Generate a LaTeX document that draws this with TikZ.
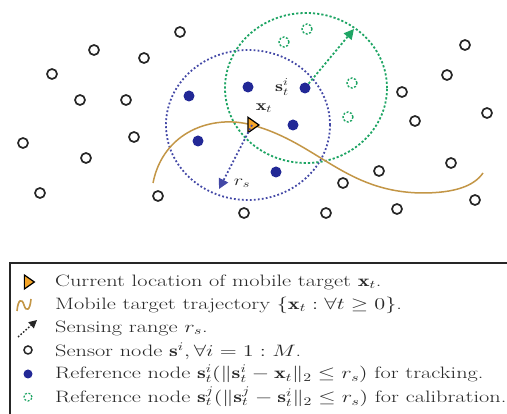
\RequirePackage{fix-cm}
\documentclass[tikz,border=0pt]{standalone}
\usepackage{fontspec}
\usepackage{graphicx}
\usetikzlibrary{arrows.meta,shapes.geometric}
\definecolor{navy}{RGB}{34,40,150}
\definecolor{calgreen}{RGB}{30,165,100}
\definecolor{gold}{RGB}{195,150,70}
\definecolor{tgtorange}{RGB}{245,165,40}
\definecolor{txt}{RGB}{40,40,40}
\newcommand{\wide}[1]{\scalebox{1.35}[1]{#1}}
\begin{document}
\begin{tikzpicture}[x=1pt,y=-1pt,
  sensor/.style={circle,draw=black!85,line width=1.7pt,minimum size=10pt,inner sep=0pt},
  refnode/.style={circle,fill=navy,minimum size=11pt,inner sep=0pt},
  calnode/.style={circle,draw=calgreen,line width=1.4pt,dash pattern=on 2pt off 1.6pt,minimum size=10pt,inner sep=0pt},
  target/.style={isosceles triangle,isosceles triangle apex angle=70,fill=tgtorange,draw=black,line width=1.2pt,minimum size=11pt,inner sep=0pt},
  bluedots/.style={navy!85,line width=1.8pt,dash pattern=on 1.8pt off 2.2pt},
  greendots/.style={calgreen,line width=1.8pt,dash pattern=on 2.2pt off 2pt},
  traj/.style={gold,line width=1.5pt},
  lbl/.style={text=txt,font=\fontsize{15}{17}\selectfont,inner sep=0pt},
  legtext/.style={anchor=west,text=txt,font=\fontsize{16.5}{20}\selectfont,inner sep=0pt},
]
\useasboundingbox (0,0) rectangle (507,414);
\fill[white] (0,0) rectangle (507,414);

% sensor nodes
\foreach \n/\x/\y in {a/180/32,b/94/50,c/144/58,d/52/74,e/80/100,f/126/100,g/23/143,h/134/137,i/86/158,j/40/193,k/158/196,l/244/213,
  m/465/45,n/447/75,o/402/92,p/487/113,q/415/121,r/451/163,s/379/171,t/343/183,u/475/200,v/397/209,w/326/213}
  \node[sensor] (s\n) at (\x,\y) {};

% sensing ranges
\draw[bluedots] (248,125) circle[x radius=82pt,y radius=75pt];
\draw[greendots] (306,88) circle[x radius=81pt,y radius=75pt];

% trajectory
\draw[traj] (153,183) .. controls (163,132) and (212,114) .. (252,125)
  .. controls (318,143) and (345,192) .. (422,193)
  .. controls (455,193) and (474,186) .. (483,173);

% reference nodes
\node[refnode] (r1) at (189,96) {};
\node[refnode] (r2) at (198,141) {};
\node[refnode] (r3) at (248,87) {};
\node[refnode] (si) at (305,88) {};
\node[refnode] (r5) at (293,125) {};
\node[refnode] (r6) at (276,172) {};

% calibration nodes
\node[calnode] (c1) at (307,29) {};
\node[calnode] (c2) at (284,42) {};
\node[calnode] (c3) at (352,83) {};
\node[calnode] (c4) at (348,117) {};

% target
\node[target] (xt) at (252,125) {};
\coordinate (rsend) at (219,189);
\coordinate (calend) at (354,29);
\draw[bluedots,-{Triangle[length=10pt,width=10pt]}] (xt.center) -- (rsend);
\draw[greendots,-{Triangle[length=10pt,width=10pt]}] (si) -- (calend);

\node[lbl] (xtl) at (264,108) {\wide{$\mathbf{x}_t$}};
\node[lbl] (rsl) at (242,183) {\wide{$r_s$}};
\node[lbl] (sil) at (282,87) {\wide{$\mathbf{s}_t^i$}};

% legend
\draw[line width=2pt,black!85] (10,520) -- (10,263) -- (530,263);
\node[target,minimum size=10pt] (lg1) at (28,282) {};
\draw[traj,line width=1.6pt] (17,311) .. controls (18,299) and (22,298) .. (24,305) .. controls (26,312) and (30,311) .. (31,299);
\coordinate (la0) at (18,337);
\coordinate (la1) at (37,320);
\draw[black!85,line width=1.4pt,dash pattern=on 1.6pt off 1.8pt,-{Triangle[length=8pt,width=8pt]}] (la0) -- (la1);
\node[sensor,minimum size=8pt,line width=1.5pt] (lg4) at (28,350) {};
\node[refnode,minimum size=9pt] (lg5) at (28,374) {};
\node[calnode,minimum size=8pt,line width=1.2pt] (lg6) at (28,397) {};

\node[legtext] (t1) at (55,282) {\wide{Current location of mobile target $\mathbf{x}_t$.}};
\node[legtext] (t2) at (55,305) {\wide{Mobile target trajectory $\{\mathbf{x}_t:\forall t\geq 0\}$.}};
\node[legtext] (t3) at (55,328) {\wide{Sensing range $r_s$.}};
\node[legtext] (t4) at (55,351) {\wide{Sensor node $\mathbf{s}^i,\forall i=1:M$.}};
\node[legtext] (t5) at (55,374) {\wide{Reference node $\mathbf{s}_t^i(\|\mathbf{s}_t^i-\mathbf{x}_t\|_2\leq r_s)$ for tracking.}};
\node[legtext] (t6) at (55,397) {\wide{Reference node $\mathbf{s}_t^j(\|\mathbf{s}_t^j-\mathbf{s}_t^i\|_2\leq r_s)$ for calibration.}};
\end{tikzpicture}
\end{document}
